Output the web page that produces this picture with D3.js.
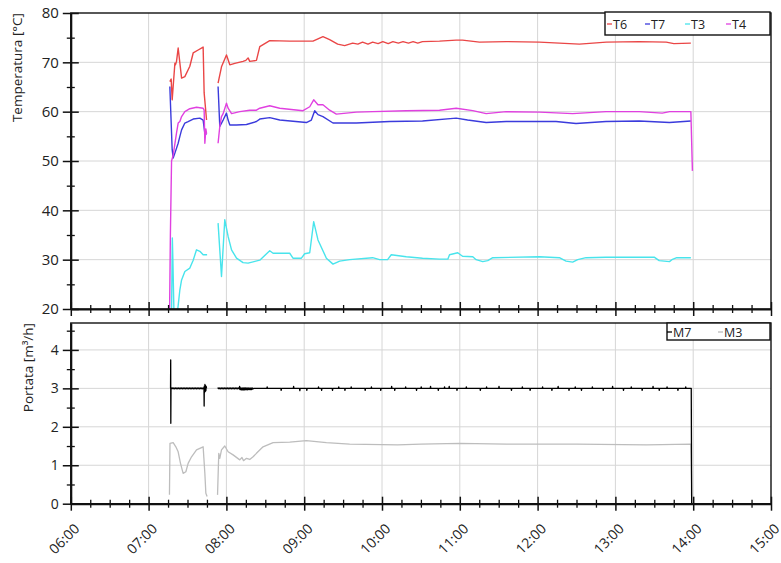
<!DOCTYPE html>
<html><head><meta charset="utf-8">
<script src="https://cdn.jsdelivr.net/npm/d3@7"></script>
<style>
body{margin:0;background:#fff;}
text{font-family:"Open Sans","Noto Sans",sans-serif;fill:#222;}
</style></head>
<body><svg id="c" width="781" height="563"></svg>
<script>
// ---- data (time in decimal hours) ----
const hourTicks = [6,7,8,9,10,11,12,13,14,15];
const hourLabels = ["06:00","07:00","08:00","09:00","10:00","11:00","12:00","13:00","14:00","15:00"];
const tempTicks = [20,30,40,50,60,70,80];
const flowTicks = [0,1,2,3,4];
const tempNames = ["T6","T7","T3","T4"];
const flowNames = ["M7","M3"];

const T6 = [[7.273,66.1],[7.290,66.6],[7.303,62.4],[7.338,69.8],[7.345,69.5],[7.359,70.2],[7.380,72.9],[7.424,66.8],[7.466,67.1],[7.530,69.2],[7.573,71.9],[7.637,72.5],[7.701,73.1],[7.714,63.8],[7.745,58.3],null,
 [7.893,65.8],[7.937,69.1],[8.001,71.5],[8.044,69.5],[8.108,69.8],[8.214,70.2],[8.250,70.4],[8.279,70.9],[8.300,70.2],[8.386,70.4],[8.429,73.2],[8.557,74.4],[8.814,74.3],[9.113,74.3],[9.241,75.2],[9.327,74.6],[9.430,73.7],[9.520,73.4],[9.623,73.9],
 [9.69,73.7],[9.75,74.1],[9.82,73.7],[9.88,74.1],[9.95,73.8],[10.01,74.2],[10.08,73.8],[10.14,74.2],[10.21,73.9],[10.27,74.2],[10.34,73.9],[10.40,74.2],[10.46,73.9],[10.52,74.2],
 [10.739,74.3],[10.954,74.5],[11.035,74.5],[11.253,74.1],[11.6,74.2],[12.023,74.1],[12.537,73.7],[12.883,74.1],[13.307,74.2],[13.653,74.1],[13.751,73.8],[13.97,73.9]];
const T7 = [[7.273,65.1],[7.303,52.3],[7.316,50.6],[7.338,51.6],[7.380,53.6],[7.402,55.0],[7.424,56.3],[7.466,57.7],[7.508,58.0],[7.573,58.5],[7.659,58.7],[7.701,58.3],[7.723,55.6],[7.745,55.4],null,
 [7.893,65.1],[7.915,57.0],[7.958,58.3],[8.001,59.7],[8.022,58.3],[8.044,57.3],[8.130,57.3],[8.258,57.4],[8.386,58.0],[8.429,58.5],[8.557,58.8],[8.686,58.3],[9.028,57.8],[9.092,58.3],[9.135,60.2],[9.177,59.4],[9.241,59.0],[9.370,57.7],[9.670,57.7],[10.098,58.0],[10.521,58.1],[10.954,58.7],[11.1,58.3],[11.339,57.8],[11.596,58.0],[12.237,58.0],[12.494,57.6],[12.879,58.0],[13.307,58.1],[13.695,57.8],[13.97,58.1]];
const T3 = [[7.295,19],[7.305,34.4],[7.312,30],[7.325,20],[7.340,17],[7.360,17.5],[7.375,20],[7.402,23.9],[7.424,25.9],[7.466,27.6],[7.530,28.3],[7.573,29.9],[7.616,32.0],[7.659,31.7],[7.701,31.0],[7.752,31.0],null,
 [7.893,37.4],[7.937,26.6],[7.979,38.1],[8.022,34.7],[8.066,32.0],[8.130,30.3],[8.214,29.4],[8.279,29.3],[8.429,29.9],[8.557,31.8],[8.600,31.3],[8.814,31.3],[8.856,30.3],[8.964,30.3],[9.006,31.2],[9.071,31.4],[9.122,37.7],[9.177,34.0],[9.285,30.3],[9.370,29.1],[9.456,29.7],[9.584,30.0],[9.879,30.4],[9.969,30.0],[10.072,30.0],[10.119,31.0],[10.312,30.6],[10.521,30.3],[10.739,30.1],[10.846,30.1],[10.868,31.0],[10.974,31.4],[11.035,30.7],[11.167,30.6],[11.210,30.0],[11.295,29.6],[11.359,29.8],[11.424,30.4],[12.023,30.6],[12.280,30.4],[12.366,29.7],[12.451,29.5],[12.515,30.0],[12.623,30.4],[12.879,30.5],[13.499,30.5],[13.563,29.8],[13.695,29.6],[13.726,30.0],[13.789,30.4],[13.97,30.4]];
const T4 = [[7.270,20],[7.280,35],[7.295,50.0],[7.316,51.2],[7.359,55.7],[7.380,57.7],[7.402,58.0],[7.424,59.0],[7.466,60.0],[7.530,60.6],[7.616,60.9],[7.701,60.7],[7.714,60.3],[7.723,53.6],[7.736,56.5],[7.745,55.5],null,
 [7.893,53.6],[7.915,57.0],[7.937,59.0],[7.958,59.6],[8.001,61.7],[8.022,60.7],[8.066,59.6],[8.172,60.0],[8.300,60.3],[8.386,60.3],[8.429,60.7],[8.557,61.2],[8.686,60.7],[8.985,60.2],[9.071,61.0],[9.122,62.4],[9.177,61.4],[9.241,61.4],[9.327,60.3],[9.413,59.5],[9.670,59.9],[9.879,60.0],[10.312,60.2],[10.739,60.3],[10.954,60.7],[11.167,60.2],[11.339,59.6],[11.596,60.0],[12.023,59.9],[12.451,59.6],[12.879,60.0],[13.307,60.0],[13.602,59.7],[13.698,60.0],[13.97,60.0],[13.99,48.0]];

const M7 = [[7.282,3.0],[7.284,3.74],[7.2855,2.09],[7.288,3.02],[7.295,2.99],[7.305,3.01],[7.315,2.99],[7.325,3.01],[7.335,2.99],[7.345,3.01],[7.355,2.99],[7.365,3.01],[7.375,2.99],[7.385,3.01],[7.395,2.99],[7.405,3.01],[7.415,2.99],[7.425,3.01],[7.435,2.99],[7.445,3.01],[7.455,2.99],[7.465,3.01],[7.475,2.99],[7.485,3.01],[7.495,2.99],[7.505,3.01],[7.515,2.99],[7.525,3.01],[7.535,2.99],[7.545,3.01],[7.555,2.99],[7.565,3.01],[7.575,2.99],[7.585,3.01],[7.595,2.99],[7.605,3.01],[7.615,2.99],[7.625,3.01],[7.635,2.99],[7.645,3.01],[7.655,2.99],[7.665,3.01],[7.675,2.99],[7.685,3.01],[7.695,2.99],[7.705,3.01],[7.712,2.99],[7.714,2.54],[7.716,3.06],[7.720,2.90],[7.724,3.10],[7.728,2.92],[7.732,3.08],[7.736,2.94],[7.740,3.05],[7.745,3.0],null,
 [7.886,3.0],[7.895,3.01],[7.905,2.99],[7.915,3.01],[7.925,2.99],[7.935,3.01],[7.945,2.99],[7.955,3.01],[7.965,2.99],[7.975,3.01],[7.985,2.99],[7.995,3.01],[8.005,2.99],[8.015,3.01],[8.025,2.99],[8.035,3.01],[8.045,2.99],[8.055,3.01],[8.065,2.99],[8.075,3.01],[8.085,2.99],[8.095,3.01],[8.105,2.99],[8.115,3.01],[8.125,2.99],[8.135,3.01],[8.145,2.99],[8.155,3.01],[8.165,2.99],[8.170,3.05],[8.175,2.97],[8.185,3.01],[8.190,2.96],[8.200,3.01],[8.205,2.96],[8.215,3.01],[8.220,2.96],[8.230,3.01],[8.235,2.96],[8.245,3.01],[8.250,2.97],[8.260,3.01],[8.265,2.96],[8.275,3.01],[8.280,2.97],[8.290,3.01],[8.295,2.97],[8.305,3.01],[8.310,2.97],[8.320,3.01],[8.325,2.97],[8.335,3.01],[8.340,2.98],[8.35,3.0],
 [8.52,3.0],[8.524,3.04],[8.528,3.0],[8.70,3.0],[8.704,2.95],[8.708,3.0],[8.86,3.0],[8.864,3.05],[8.868,3.0],[8.94,3.0],[8.944,2.94],[8.948,3.0],[9.03,3.0],[9.034,2.95],[9.038,3.0],[9.18,3.0],[9.184,3.04],[9.188,3.0],[9.22,3.0],[9.224,2.95],[9.228,3.0],[9.36,3.0],[9.364,2.95],[9.368,3.0],[9.44,3.0],[9.444,3.04],[9.448,3.0],[9.52,3.0],[9.524,2.95],[9.528,3.0],[9.60,3.0],[9.604,3.04],[9.608,3.0],[9.78,3.0],[9.784,2.95],[9.788,3.0],[9.86,3.0],[9.864,3.04],[9.868,3.0],[9.98,3.0],[9.984,2.95],[9.988,3.0],[10.12,3.0],[10.124,3.05],[10.128,3.0],[10.16,3.0],[10.164,2.95],[10.168,3.0],[10.30,3.0],[10.304,3.04],[10.308,3.0],[10.44,3.0],[10.444,2.95],[10.448,3.0],[10.50,3.0],[10.504,3.04],[10.508,3.0],[10.62,3.0],[10.624,3.05],[10.628,3.0],[10.72,3.0],[10.724,2.95],[10.728,3.0],[10.80,3.0],[10.804,3.04],[10.808,3.0],[10.86,3.0],[10.864,3.05],[10.868,3.0],[10.96,3.0],[10.964,2.95],[10.968,3.0],[11.08,3.0],[11.084,3.04],[11.088,3.0],[11.26,3.0],[11.264,2.95],[11.268,3.0],[11.34,3.0],[11.344,3.04],[11.348,3.0],[11.50,3.0],[11.504,3.05],[11.508,3.0],[11.66,3.0],[11.664,2.95],[11.668,3.0],[11.80,3.0],[11.804,3.04],[11.808,3.0],[11.90,3.0],[11.904,2.95],[11.908,3.0],[12.06,3.0],[12.064,3.04],[12.068,3.0],[12.18,3.0],[12.184,2.95],[12.188,3.0],[12.26,3.0],[12.264,3.05],[12.268,3.0],[12.40,3.0],[12.404,2.95],[12.408,3.0],[12.48,3.0],[12.484,3.04],[12.488,3.0],[12.56,3.0],[12.564,2.95],[12.568,3.0],[12.70,3.0],[12.704,3.04],[12.708,3.0],[12.84,3.0],[12.844,2.95],[12.848,3.0],[12.96,3.0],[12.964,3.05],[12.968,3.0],[13.10,3.0],[13.104,2.95],[13.108,3.0],[13.20,3.0],[13.204,3.04],[13.208,3.0],[13.34,3.0],[13.344,2.95],[13.348,3.0],[13.48,3.0],[13.484,3.05],[13.488,3.0],[13.56,3.0],[13.564,2.95],[13.568,3.0],[13.66,3.0],[13.664,3.04],[13.668,3.0],[13.80,3.0],[13.804,2.95],[13.808,3.0],[13.90,3.0],[13.904,3.04],[13.908,3.0],[13.975,3.0],[13.98,0.0]];
const M3 = [[7.268,0.23],[7.275,1.57],[7.316,1.59],[7.350,1.48],[7.380,1.35],[7.41,1.05],[7.444,0.79],[7.479,0.83],[7.508,1.05],[7.552,1.22],[7.616,1.40],[7.701,1.48],[7.723,0.79],[7.736,0.27],[7.752,0.19],null,
 [7.886,0.23],[7.902,1.31],[7.915,1.18],[7.937,1.40],[7.979,1.50],[8.022,1.35],[8.086,1.27],[8.172,1.14],[8.20,1.20],[8.22,1.12],[8.258,1.18],[8.30,1.15],[8.343,1.22],[8.386,1.31],[8.471,1.48],[8.600,1.59],[8.814,1.60],[9.028,1.64],[9.285,1.59],[9.584,1.55],[10.2,1.53],[10.5,1.55],[11.0,1.57],[11.6,1.55],[12.5,1.55],[13.4,1.53],[13.97,1.55],[13.985,0]];

const tempColors = ["#ea4646","#3b3bdc","#48e4ec","#e040e0"];
const flowColors = ["#000000","#bdbdbd"];

// ---- layout ----
const svg = d3.select("#c");
const L = 70.8, R = 771;
const x = d3.scaleLinear().domain([6,15]).range([L,R]);
const yT = d3.scaleLinear().domain([20,80]).range([309,13]);
const yP = d3.scaleLinear().domain([0,4.7]).range([503.7,323]);

const minorX = d3.range(6,15.001,0.25).filter(v=>Math.abs(v-Math.round(v))>1e-6);

function panel(y, majorY, clipId){
  const [b,t] = y.range();
  const g = svg.append("g");
  g.selectAll(".gx").data(hourTicks.slice(1,-1)).join("line")
    .attr("x1",d=>x(d)).attr("x2",d=>x(d)).attr("y1",t).attr("y2",b)
    .attr("stroke","#d6d6d6").attr("stroke-width",1);
  g.selectAll(".gy").data(majorY.slice(1).filter(v=>y(v)>t+1)).join("line")
    .attr("x1",L).attr("x2",R).attr("y1",d=>y(d)).attr("y2",d=>y(d))
    .attr("stroke","#d6d6d6").attr("stroke-width",1);
  svg.append("clipPath").attr("id",clipId).append("rect")
    .attr("x",L).attr("y",t).attr("width",R-L).attr("height",b-t);
  return g;
}

function axes(y, majorY, minorY, labelFont, showXLabels){
  const [b,t] = y.range();
  svg.append("rect").attr("x",L).attr("y",t).attr("width",R-L).attr("height",b-t)
    .attr("fill","none").attr("stroke","#111").attr("stroke-width",1.4);
  const ga = svg.append("g").attr("transform",`translate(${L},0)`)
    .call(d3.axisLeft(y).tickValues(majorY).tickSize(0).tickPadding(12).tickFormat(d3.format("d")));
  ga.select(".domain").attr("stroke","#111").attr("stroke-width",2);
  ga.selectAll(".tick text").attr("font-size",labelFont).attr("fill","#222")
    .style("font-family","'Open Sans','Noto Sans',sans-serif");
  ga.selectAll(".tick line").attr("x1",-8).attr("x2",8).attr("stroke","#111").attr("stroke-width",1.5);
  const gm = svg.append("g").attr("transform",`translate(${L},0)`)
    .call(d3.axisLeft(y).tickValues(minorY).tickSize(0).tickFormat(""));
  gm.select(".domain").remove();
  gm.selectAll(".tick line").attr("x1",-4).attr("x2",4).attr("stroke","#111").attr("stroke-width",1.3);
  const gb = svg.append("g").attr("transform",`translate(0,${b})`)
    .call(d3.axisBottom(x).tickValues(hourTicks).tickSize(0).tickFormat((d,i)=>showXLabels?hourLabels[i]:""));
  gb.select(".domain").attr("stroke","#111").attr("stroke-width",2);
  gb.selectAll(".tick line").attr("y1",-7).attr("y2",7).attr("stroke","#111").attr("stroke-width",1.5);
  if(showXLabels){
    gb.selectAll(".tick text").attr("font-size",14).attr("fill","#222")
      .style("font-family","'Open Sans','Noto Sans',sans-serif")
      .attr("text-anchor","end").attr("dy",null).attr("y",null)
      .attr("transform","translate(9,26) rotate(-45)");
  }
  const gbm = svg.append("g").attr("transform",`translate(0,${b})`)
    .call(d3.axisBottom(x).tickValues(minorX).tickSize(0).tickFormat(""));
  gbm.select(".domain").remove();
  gbm.selectAll(".tick line").attr("y1",-4).attr("y2",4).attr("stroke","#111").attr("stroke-width",1.3);
}

function drawLines(y, series, colors, clipId, width){
  const line = d3.line().defined(d=>d!==null).x(d=>x(d[0])).y(d=>y(d[1]));
  const lg = svg.append("g").attr("clip-path",`url(#${clipId})`);
  series.forEach((s,i)=>{
    lg.append("path").attr("d",line(s)).attr("fill","none")
      .attr("stroke",colors[i]).attr("stroke-width",width[i]).attr("stroke-linejoin","round");
  });
}

// top panel
const tMinor = d3.range(25,80,10);
panel(yT, tempTicks, "clipT");
drawLines(yT, [T6,T7,T3,T4], tempColors, "clipT", [1.4,1.4,1.4,1.4]);
axes(yT, tempTicks, tMinor, 15, false);

// bottom panel
const pMinor = [0.5,1.5,2.5,3.5,4.5];
panel(yP, flowTicks, "clipP");
drawLines(yP, [M3,M7], [flowColors[1],flowColors[0]], "clipP", [1.3,1.3]);
axes(yP, flowTicks, pMinor, 14, true);

// axis titles
svg.append("text").attr("transform","translate(22,13) rotate(-90)").attr("text-anchor","end")
  .attr("font-size",13.5).text("Temperatura [°C]");
svg.append("text").attr("transform","translate(33,323) rotate(-90)").attr("text-anchor","end")
  .attr("font-size",13.5).text("Portata [m³/h]");

// legends
function legend(x0, y0, w, h, names, colors, xs, base){
  svg.append("rect").attr("x",x0).attr("y",y0).attr("width",w).attr("height",h)
    .attr("fill","#fff").attr("stroke","#111").attr("stroke-width",1.4);
  names.forEach((n,i)=>{
    svg.append("line").attr("x1",xs[i]).attr("x2",xs[i]+5).attr("y1",base-4.5).attr("y2",base-4.5)
      .attr("stroke",colors[i]).attr("stroke-width",1.3);
    svg.append("text").attr("x",xs[i]+6).attr("y",base).attr("font-size",12.5).attr("fill","#444").text(n);
  });
}
legend(605,12,165,23,tempNames,tempColors,[607,645,685,726],28.5);
legend(667,323,103,17,flowNames,flowColors,[667,718],336.5);
</script></body></html>
